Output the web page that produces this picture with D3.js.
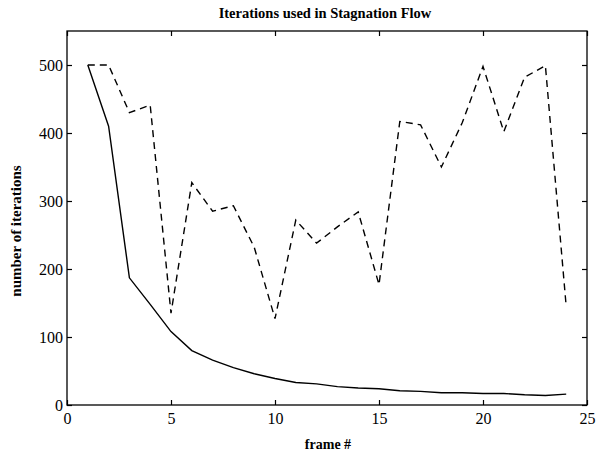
<!DOCTYPE html>
<html>
<head>
<meta charset="utf-8">
<script src="https://cdn.jsdelivr.net/npm/d3@7"></script>
<style>
  body { margin: 0; background: #fff; }
  text { font-family: "Liberation Serif", "DejaVu Serif", serif; fill: #000; }
</style>
</head>
<body>
<div id="chart"></div>
<script>
// frame numbers and iteration counts
const frames = d3.range(1, 25);
const solidIters = [500, 410, 187, 148, 108, 80, 66, 55, 46, 39, 33, 31, 27, 25, 24, 21, 20, 18, 18, 17, 17, 15, 14, 16];
const dashedIters = [500, 500, 430, 441, 135, 327, 285, 293, 232, 127, 272, 238, 262, 284, 177, 417, 412, 350, 415, 498, 402, 482, 499, 145];
const xTicks = [0, 5, 10, 15, 20, 25];
const yTicks = [0, 100, 200, 300, 400, 500];

const width = 597, height = 454;
const margin = {top: 31, right: 10, bottom: 49, left: 67};

const svg = d3.select("#chart").append("svg")
    .attr("width", width)
    .attr("height", height);

const x = d3.scaleLinear().domain([0, 25]).range([margin.left, width - margin.right]);
const y = d3.scaleLinear().domain([0, 550]).range([height - margin.bottom, margin.top]);

// box
svg.append("rect")
    .attr("x", x(0)).attr("y", y(550))
    .attr("width", x(25) - x(0)).attr("height", y(0) - y(550))
    .attr("fill", "none").attr("stroke", "#000").attr("stroke-width", 1.3);

// ticks point inward on all four sides
const tickLen = 5;
const axBottom = svg.append("g").attr("transform", `translate(0,${y(0)})`)
    .call(d3.axisBottom(x).tickValues(xTicks).tickSizeInner(-tickLen).tickSizeOuter(0).tickPadding(8));
const axTop = svg.append("g").attr("transform", `translate(0,${y(550)})`)
    .call(d3.axisTop(x).tickValues(xTicks).tickSizeInner(-tickLen).tickSizeOuter(0).tickFormat(""));
const axLeft = svg.append("g").attr("transform", `translate(${x(0)},0)`)
    .call(d3.axisLeft(y).tickValues(yTicks).tickSizeInner(-tickLen).tickSizeOuter(0).tickPadding(4));
const axRight = svg.append("g").attr("transform", `translate(${x(25)},0)`)
    .call(d3.axisRight(y).tickValues(yTicks).tickSizeInner(-tickLen).tickSizeOuter(0).tickFormat(""));

[axBottom, axTop, axLeft, axRight].forEach(g => {
    g.select(".domain").remove();
    g.selectAll(".tick line").attr("stroke", "#000").attr("stroke-width", 1.2);
    g.selectAll("text").style("font-size", "16px").attr("fill", "#000");
});

// lines
const line = d3.line().x((d, i) => x(frames[i])).y(d => y(d));

svg.append("path")
    .datum(solidIters)
    .attr("d", line)
    .attr("fill", "none")
    .attr("stroke", "#000")
    .attr("stroke-width", 1.4);

svg.append("path")
    .datum(dashedIters)
    .attr("d", line)
    .attr("fill", "none")
    .attr("stroke", "#000")
    .attr("stroke-width", 1.4)
    .attr("stroke-dasharray", "7,5");

// labels
svg.append("text")
    .attr("x", 325).attr("y", 18)
    .attr("text-anchor", "middle")
    .style("font-size", "14.5px").style("font-weight", "bold")
    .text("Iterations used in Stagnation Flow");

svg.append("text")
    .attr("x", 328).attr("y", 449)
    .attr("text-anchor", "middle")
    .style("font-size", "14px").style("font-weight", "bold")
    .text("frame #");

svg.append("text")
    .attr("transform", `translate(21,231) rotate(-90)`)
    .attr("text-anchor", "middle")
    .style("font-size", "15px").style("font-weight", "bold")
    .text("number of iterations");
</script>
</body>
</html>
